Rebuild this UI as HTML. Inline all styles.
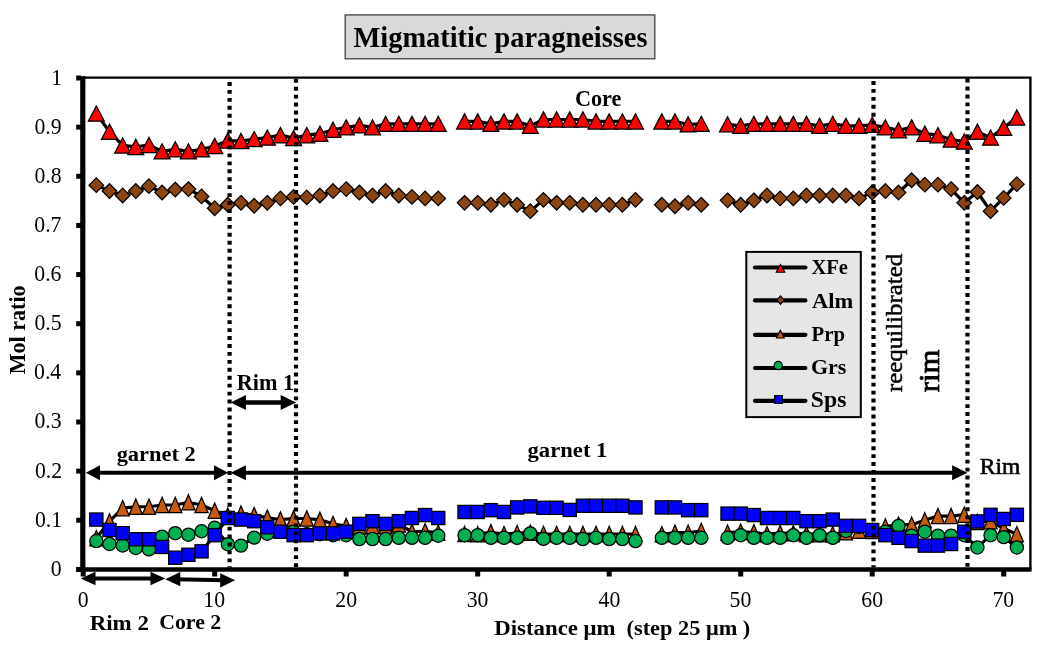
<!DOCTYPE html>
<html><head><meta charset="utf-8"><title>Migmatitic paragneisses</title>
<style>html,body{margin:0;padding:0;background:#fff;}body{width:1045px;height:651px;overflow:hidden;font-family:"Liberation Serif",serif;}svg{display:block;will-change:transform;}</style>
</head><body>
<svg width="1045" height="651" viewBox="0 0 1045 651">
<rect x="0" y="0" width="1045" height="651" fill="#fff"/>
<rect x="345.2" y="14.9" width="309.6" height="43.9" fill="#D9D9D9" stroke="#404040" stroke-width="1.3"/>
<path d="M82.8 77.6H1030.4V569.4" fill="none" stroke="#000" stroke-width="2.4"/>
<path d="M96.35 113.59L109.5 131.73L122.65 145.46L135.8 146.93L148.95 144.97L162.1 151.34L175.25 149.38L188.4 151.34L201.55 149.38L214.7 145.95L227.85 140.56L241 141.05L254.15 139.08L267.3 137.61L280.45 135.16L293.6 138.1L306.75 135.16L319.9 133.69L333.05 129.77L346.2 127.32L359.35 125.36L372.5 127.32L385.65 123.89L398.8 123.89L411.95 123.89L425.1 123.89L438.25 123.89M464.55 121.44L477.7 121.44L490.85 123.89L504 121.44L517.15 121.44L530.3 125.85L543.45 119.48L556.6 119.48L569.75 119.48L582.9 119.48L596.05 121.44L609.2 121.44L622.35 121.44L635.5 121.44M661.8 121.44L674.95 121.44L688.1 124.38L701.25 123.89M727.55 124.38L740.7 125.85L753.85 123.89L767 123.89L780.15 123.89L793.3 123.89L806.45 123.89L819.6 125.85L832.75 123.89L845.9 125.85L859.05 125.85L872.2 124.87L885.35 127.32L898.5 130.26L911.65 127.32L924.8 133.69L937.95 135.16L951.1 139.57L964.25 141.54L977.4 131.73L990.55 137.61L1003.7 127.81L1016.85 117.52" fill="none" stroke="#000" stroke-width="3.2" stroke-linejoin="round"/>
<g stroke="#000" stroke-width="1.25" stroke-linejoin="miter"><path d="M96.35 105.99L104.35 121.19L88.35 121.19Z" fill="#FF0000"/><path d="M109.5 124.13L117.5 139.33L101.5 139.33Z" fill="#FF0000"/><path d="M122.65 137.86L130.65 153.06L114.65 153.06Z" fill="#FF0000"/><path d="M135.8 139.33L143.8 154.53L127.8 154.53Z" fill="#FF0000"/><path d="M148.95 137.37L156.95 152.57L140.95 152.57Z" fill="#FF0000"/><path d="M162.1 143.74L170.1 158.94L154.1 158.94Z" fill="#FF0000"/><path d="M175.25 141.78L183.25 156.98L167.25 156.98Z" fill="#FF0000"/><path d="M188.4 143.74L196.4 158.94L180.4 158.94Z" fill="#FF0000"/><path d="M201.55 141.78L209.55 156.98L193.55 156.98Z" fill="#FF0000"/><path d="M214.7 138.35L222.7 153.55L206.7 153.55Z" fill="#FF0000"/><path d="M227.85 132.96L235.85 148.16L219.85 148.16Z" fill="#FF0000"/><path d="M241 133.45L249 148.65L233 148.65Z" fill="#FF0000"/><path d="M254.15 131.48L262.15 146.68L246.15 146.68Z" fill="#FF0000"/><path d="M267.3 130.01L275.3 145.21L259.3 145.21Z" fill="#FF0000"/><path d="M280.45 127.56L288.45 142.76L272.45 142.76Z" fill="#FF0000"/><path d="M293.6 130.5L301.6 145.7L285.6 145.7Z" fill="#FF0000"/><path d="M306.75 127.56L314.75 142.76L298.75 142.76Z" fill="#FF0000"/><path d="M319.9 126.09L327.9 141.29L311.9 141.29Z" fill="#FF0000"/><path d="M333.05 122.17L341.05 137.37L325.05 137.37Z" fill="#FF0000"/><path d="M346.2 119.72L354.2 134.92L338.2 134.92Z" fill="#FF0000"/><path d="M359.35 117.76L367.35 132.96L351.35 132.96Z" fill="#FF0000"/><path d="M372.5 119.72L380.5 134.92L364.5 134.92Z" fill="#FF0000"/><path d="M385.65 116.29L393.65 131.49L377.65 131.49Z" fill="#FF0000"/><path d="M398.8 116.29L406.8 131.49L390.8 131.49Z" fill="#FF0000"/><path d="M411.95 116.29L419.95 131.49L403.95 131.49Z" fill="#FF0000"/><path d="M425.1 116.29L433.1 131.49L417.1 131.49Z" fill="#FF0000"/><path d="M438.25 116.29L446.25 131.49L430.25 131.49Z" fill="#FF0000"/><path d="M464.55 113.84L472.55 129.04L456.55 129.04Z" fill="#FF0000"/><path d="M477.7 113.84L485.7 129.04L469.7 129.04Z" fill="#FF0000"/><path d="M490.85 116.29L498.85 131.49L482.85 131.49Z" fill="#FF0000"/><path d="M504 113.84L512 129.04L496 129.04Z" fill="#FF0000"/><path d="M517.15 113.84L525.15 129.04L509.15 129.04Z" fill="#FF0000"/><path d="M530.3 118.25L538.3 133.45L522.3 133.45Z" fill="#FF0000"/><path d="M543.45 111.88L551.45 127.08L535.45 127.08Z" fill="#FF0000"/><path d="M556.6 111.88L564.6 127.08L548.6 127.08Z" fill="#FF0000"/><path d="M569.75 111.88L577.75 127.08L561.75 127.08Z" fill="#FF0000"/><path d="M582.9 111.88L590.9 127.08L574.9 127.08Z" fill="#FF0000"/><path d="M596.05 113.84L604.05 129.04L588.05 129.04Z" fill="#FF0000"/><path d="M609.2 113.84L617.2 129.04L601.2 129.04Z" fill="#FF0000"/><path d="M622.35 113.84L630.35 129.04L614.35 129.04Z" fill="#FF0000"/><path d="M635.5 113.84L643.5 129.04L627.5 129.04Z" fill="#FF0000"/><path d="M661.8 113.84L669.8 129.04L653.8 129.04Z" fill="#FF0000"/><path d="M674.95 113.84L682.95 129.04L666.95 129.04Z" fill="#FF0000"/><path d="M688.1 116.78L696.1 131.98L680.1 131.98Z" fill="#FF0000"/><path d="M701.25 116.29L709.25 131.49L693.25 131.49Z" fill="#FF0000"/><path d="M727.55 116.78L735.55 131.98L719.55 131.98Z" fill="#FF0000"/><path d="M740.7 118.25L748.7 133.45L732.7 133.45Z" fill="#FF0000"/><path d="M753.85 116.29L761.85 131.49L745.85 131.49Z" fill="#FF0000"/><path d="M767 116.29L775 131.49L759 131.49Z" fill="#FF0000"/><path d="M780.15 116.29L788.15 131.49L772.15 131.49Z" fill="#FF0000"/><path d="M793.3 116.29L801.3 131.49L785.3 131.49Z" fill="#FF0000"/><path d="M806.45 116.29L814.45 131.49L798.45 131.49Z" fill="#FF0000"/><path d="M819.6 118.25L827.6 133.45L811.6 133.45Z" fill="#FF0000"/><path d="M832.75 116.29L840.75 131.49L824.75 131.49Z" fill="#FF0000"/><path d="M845.9 118.25L853.9 133.45L837.9 133.45Z" fill="#FF0000"/><path d="M859.05 118.25L867.05 133.45L851.05 133.45Z" fill="#FF0000"/><path d="M872.2 117.27L880.2 132.47L864.2 132.47Z" fill="#FF0000"/><path d="M885.35 119.72L893.35 134.92L877.35 134.92Z" fill="#FF0000"/><path d="M898.5 122.66L906.5 137.86L890.5 137.86Z" fill="#FF0000"/><path d="M911.65 119.72L919.65 134.92L903.65 134.92Z" fill="#FF0000"/><path d="M924.8 126.09L932.8 141.29L916.8 141.29Z" fill="#FF0000"/><path d="M937.95 127.56L945.95 142.76L929.95 142.76Z" fill="#FF0000"/><path d="M951.1 131.97L959.1 147.17L943.1 147.17Z" fill="#FF0000"/><path d="M964.25 133.94L972.25 149.14L956.25 149.14Z" fill="#FF0000"/><path d="M977.4 124.13L985.4 139.33L969.4 139.33Z" fill="#FF0000"/><path d="M990.55 130.01L998.55 145.21L982.55 145.21Z" fill="#FF0000"/><path d="M1003.7 120.21L1011.7 135.41L995.7 135.41Z" fill="#FF0000"/><path d="M1016.85 109.92L1024.85 125.12L1008.85 125.12Z" fill="#FF0000"/></g>
<path d="M96.35 185.16L109.5 191.05L122.65 195.46L135.8 191.05L148.95 186.14L162.1 192.52L175.25 189.58L188.4 189.09L201.55 196.44L214.7 208.2L227.85 204.77L241 202.81L254.15 205.75L267.3 202.81L280.45 198.4L293.6 196.93L306.75 197.42L319.9 195.46L333.05 191.05L346.2 189.09L359.35 192.52L372.5 195.46L385.65 191.05L398.8 195.46L411.95 196.93L425.1 198.4L438.25 198.4M464.55 202.81L477.7 202.81L490.85 204.77L504 199.87L517.15 204.77L530.3 211.14L543.45 199.87L556.6 202.81L569.75 202.81L582.9 204.77L596.05 204.77L609.2 204.77L622.35 204.77L635.5 199.87M661.8 204.77L674.95 206.24L688.1 202.81L701.25 204.77M727.55 200.36L740.7 204.77L753.85 200.36L767 195.46L780.15 198.4L793.3 198.4L806.45 195.46L819.6 195.46L832.75 195.46L845.9 195.46L859.05 198.4L872.2 192.52L885.35 191.05L898.5 192.52L911.65 180.26L924.8 184.67L937.95 184.67L951.1 189.09L964.25 202.81L977.4 192.03L990.55 211.14L1003.7 197.91L1016.85 184.18" fill="none" stroke="#000" stroke-width="3.2" stroke-linejoin="round"/>
<g stroke="#000" stroke-width="1.25" stroke-linejoin="miter"><path d="M96.35 177.86L103.65 185.16L96.35 192.46L89.05 185.16Z" fill="#8B4513"/><path d="M109.5 183.75L116.8 191.05L109.5 198.35L102.2 191.05Z" fill="#8B4513"/><path d="M122.65 188.16L129.95 195.46L122.65 202.76L115.35 195.46Z" fill="#8B4513"/><path d="M135.8 183.75L143.1 191.05L135.8 198.35L128.5 191.05Z" fill="#8B4513"/><path d="M148.95 178.84L156.25 186.14L148.95 193.44L141.65 186.14Z" fill="#8B4513"/><path d="M162.1 185.22L169.4 192.52L162.1 199.82L154.8 192.52Z" fill="#8B4513"/><path d="M175.25 182.28L182.55 189.58L175.25 196.88L167.95 189.58Z" fill="#8B4513"/><path d="M188.4 181.79L195.7 189.09L188.4 196.39L181.1 189.09Z" fill="#8B4513"/><path d="M201.55 189.14L208.85 196.44L201.55 203.74L194.25 196.44Z" fill="#8B4513"/><path d="M214.7 200.9L222 208.2L214.7 215.5L207.4 208.2Z" fill="#8B4513"/><path d="M227.85 197.47L235.15 204.77L227.85 212.07L220.55 204.77Z" fill="#8B4513"/><path d="M241 195.51L248.3 202.81L241 210.11L233.7 202.81Z" fill="#8B4513"/><path d="M254.15 198.45L261.45 205.75L254.15 213.05L246.85 205.75Z" fill="#8B4513"/><path d="M267.3 195.51L274.6 202.81L267.3 210.11L260 202.81Z" fill="#8B4513"/><path d="M280.45 191.1L287.75 198.4L280.45 205.7L273.15 198.4Z" fill="#8B4513"/><path d="M293.6 189.63L300.9 196.93L293.6 204.23L286.3 196.93Z" fill="#8B4513"/><path d="M306.75 190.12L314.05 197.42L306.75 204.72L299.45 197.42Z" fill="#8B4513"/><path d="M319.9 188.16L327.2 195.46L319.9 202.76L312.6 195.46Z" fill="#8B4513"/><path d="M333.05 183.75L340.35 191.05L333.05 198.35L325.75 191.05Z" fill="#8B4513"/><path d="M346.2 181.79L353.5 189.09L346.2 196.39L338.9 189.09Z" fill="#8B4513"/><path d="M359.35 185.22L366.65 192.52L359.35 199.82L352.05 192.52Z" fill="#8B4513"/><path d="M372.5 188.16L379.8 195.46L372.5 202.76L365.2 195.46Z" fill="#8B4513"/><path d="M385.65 183.75L392.95 191.05L385.65 198.35L378.35 191.05Z" fill="#8B4513"/><path d="M398.8 188.16L406.1 195.46L398.8 202.76L391.5 195.46Z" fill="#8B4513"/><path d="M411.95 189.63L419.25 196.93L411.95 204.23L404.65 196.93Z" fill="#8B4513"/><path d="M425.1 191.1L432.4 198.4L425.1 205.7L417.8 198.4Z" fill="#8B4513"/><path d="M438.25 191.1L445.55 198.4L438.25 205.7L430.95 198.4Z" fill="#8B4513"/><path d="M464.55 195.51L471.85 202.81L464.55 210.11L457.25 202.81Z" fill="#8B4513"/><path d="M477.7 195.51L485 202.81L477.7 210.11L470.4 202.81Z" fill="#8B4513"/><path d="M490.85 197.47L498.15 204.77L490.85 212.07L483.55 204.77Z" fill="#8B4513"/><path d="M504 192.57L511.3 199.87L504 207.17L496.7 199.87Z" fill="#8B4513"/><path d="M517.15 197.47L524.45 204.77L517.15 212.07L509.85 204.77Z" fill="#8B4513"/><path d="M530.3 203.84L537.6 211.14L530.3 218.44L523 211.14Z" fill="#8B4513"/><path d="M543.45 192.57L550.75 199.87L543.45 207.17L536.15 199.87Z" fill="#8B4513"/><path d="M556.6 195.51L563.9 202.81L556.6 210.11L549.3 202.81Z" fill="#8B4513"/><path d="M569.75 195.51L577.05 202.81L569.75 210.11L562.45 202.81Z" fill="#8B4513"/><path d="M582.9 197.47L590.2 204.77L582.9 212.07L575.6 204.77Z" fill="#8B4513"/><path d="M596.05 197.47L603.35 204.77L596.05 212.07L588.75 204.77Z" fill="#8B4513"/><path d="M609.2 197.47L616.5 204.77L609.2 212.07L601.9 204.77Z" fill="#8B4513"/><path d="M622.35 197.47L629.65 204.77L622.35 212.07L615.05 204.77Z" fill="#8B4513"/><path d="M635.5 192.57L642.8 199.87L635.5 207.17L628.2 199.87Z" fill="#8B4513"/><path d="M661.8 197.47L669.1 204.77L661.8 212.07L654.5 204.77Z" fill="#8B4513"/><path d="M674.95 198.94L682.25 206.24L674.95 213.54L667.65 206.24Z" fill="#8B4513"/><path d="M688.1 195.51L695.4 202.81L688.1 210.11L680.8 202.81Z" fill="#8B4513"/><path d="M701.25 197.47L708.55 204.77L701.25 212.07L693.95 204.77Z" fill="#8B4513"/><path d="M727.55 193.06L734.85 200.36L727.55 207.66L720.25 200.36Z" fill="#8B4513"/><path d="M740.7 197.47L748 204.77L740.7 212.07L733.4 204.77Z" fill="#8B4513"/><path d="M753.85 193.06L761.15 200.36L753.85 207.66L746.55 200.36Z" fill="#8B4513"/><path d="M767 188.16L774.3 195.46L767 202.76L759.7 195.46Z" fill="#8B4513"/><path d="M780.15 191.1L787.45 198.4L780.15 205.7L772.85 198.4Z" fill="#8B4513"/><path d="M793.3 191.1L800.6 198.4L793.3 205.7L786 198.4Z" fill="#8B4513"/><path d="M806.45 188.16L813.75 195.46L806.45 202.76L799.15 195.46Z" fill="#8B4513"/><path d="M819.6 188.16L826.9 195.46L819.6 202.76L812.3 195.46Z" fill="#8B4513"/><path d="M832.75 188.16L840.05 195.46L832.75 202.76L825.45 195.46Z" fill="#8B4513"/><path d="M845.9 188.16L853.2 195.46L845.9 202.76L838.6 195.46Z" fill="#8B4513"/><path d="M859.05 191.1L866.35 198.4L859.05 205.7L851.75 198.4Z" fill="#8B4513"/><path d="M872.2 185.22L879.5 192.52L872.2 199.82L864.9 192.52Z" fill="#8B4513"/><path d="M885.35 183.75L892.65 191.05L885.35 198.35L878.05 191.05Z" fill="#8B4513"/><path d="M898.5 185.22L905.8 192.52L898.5 199.82L891.2 192.52Z" fill="#8B4513"/><path d="M911.65 172.96L918.95 180.26L911.65 187.56L904.35 180.26Z" fill="#8B4513"/><path d="M924.8 177.37L932.1 184.67L924.8 191.97L917.5 184.67Z" fill="#8B4513"/><path d="M937.95 177.37L945.25 184.67L937.95 191.97L930.65 184.67Z" fill="#8B4513"/><path d="M951.1 181.79L958.4 189.09L951.1 196.39L943.8 189.09Z" fill="#8B4513"/><path d="M964.25 195.51L971.55 202.81L964.25 210.11L956.95 202.81Z" fill="#8B4513"/><path d="M977.4 184.73L984.7 192.03L977.4 199.33L970.1 192.03Z" fill="#8B4513"/><path d="M990.55 203.84L997.85 211.14L990.55 218.44L983.25 211.14Z" fill="#8B4513"/><path d="M1003.7 190.61L1011 197.91L1003.7 205.21L996.4 197.91Z" fill="#8B4513"/><path d="M1016.85 176.88L1024.15 184.18L1016.85 191.48L1009.55 184.18Z" fill="#8B4513"/></g>
<path d="M96.35 538.11L109.5 521.44L122.65 508.21L135.8 506.73L148.95 506.73L162.1 505.02L175.25 505.02L188.4 502.32L201.55 505.02L214.7 510.66L227.85 515.56L241 513.6L254.15 515.07L267.3 517.76L280.45 519.58L293.6 518.5L306.75 518.5L319.9 519.82L333.05 523.89L346.2 526.05L359.35 526.49L372.5 525.85L385.65 526.34L398.8 524.38L411.95 531.74L425.1 531.24L438.25 532.72M464.55 533.99L477.7 534.19L490.85 532.23L504 534.19L517.15 533.21L530.3 532.72L543.45 533.99L556.6 533.99L569.75 533.99L582.9 533.99L596.05 533.99L609.2 533.99L622.35 533.99L635.5 534.04M661.8 534.19L674.95 532.72L688.1 532.72L701.25 530.9M727.55 532.72L740.7 531.74L753.85 532.23L767 534.19L780.15 533.21L793.3 533.21L806.45 534.19L819.6 534.19L832.75 534.19L845.9 532.23L859.05 530.61L872.2 530.95L885.35 526.49L898.5 524.68L911.65 524.68L924.8 520.31L937.95 516.05L951.1 516.05L964.25 514.68L977.4 521.93L990.55 521.2L1003.7 528.55L1016.85 534.19" fill="none" stroke="#000" stroke-width="3.2" stroke-linejoin="round"/>
<g stroke="#000" stroke-width="1.25" stroke-linejoin="miter"><path d="M96.35 530.46L102.95 545.76L89.75 545.76Z" fill="#C65A11"/><path d="M109.5 513.79L116.1 529.09L102.9 529.09Z" fill="#C65A11"/><path d="M122.65 500.56L129.25 515.86L116.05 515.86Z" fill="#C65A11"/><path d="M135.8 499.08L142.4 514.38L129.2 514.38Z" fill="#C65A11"/><path d="M148.95 499.08L155.55 514.38L142.35 514.38Z" fill="#C65A11"/><path d="M162.1 497.37L168.7 512.67L155.5 512.67Z" fill="#C65A11"/><path d="M175.25 497.37L181.85 512.67L168.65 512.67Z" fill="#C65A11"/><path d="M188.4 494.67L195 509.97L181.8 509.97Z" fill="#C65A11"/><path d="M201.55 497.37L208.15 512.67L194.95 512.67Z" fill="#C65A11"/><path d="M214.7 503.01L221.3 518.31L208.1 518.31Z" fill="#C65A11"/><path d="M227.85 507.91L234.45 523.21L221.25 523.21Z" fill="#C65A11"/><path d="M241 505.95L247.6 521.25L234.4 521.25Z" fill="#C65A11"/><path d="M254.15 507.42L260.75 522.72L247.55 522.72Z" fill="#C65A11"/><path d="M267.3 510.11L273.9 525.41L260.7 525.41Z" fill="#C65A11"/><path d="M280.45 511.93L287.05 527.23L273.85 527.23Z" fill="#C65A11"/><path d="M293.6 510.85L300.2 526.15L287 526.15Z" fill="#C65A11"/><path d="M306.75 510.85L313.35 526.15L300.15 526.15Z" fill="#C65A11"/><path d="M319.9 512.17L326.5 527.47L313.3 527.47Z" fill="#C65A11"/><path d="M333.05 516.24L339.65 531.54L326.45 531.54Z" fill="#C65A11"/><path d="M346.2 518.4L352.8 533.7L339.6 533.7Z" fill="#C65A11"/><path d="M359.35 518.84L365.95 534.14L352.75 534.14Z" fill="#C65A11"/><path d="M372.5 518.2L379.1 533.5L365.9 533.5Z" fill="#C65A11"/><path d="M385.65 518.69L392.25 533.99L379.05 533.99Z" fill="#C65A11"/><path d="M398.8 516.73L405.4 532.03L392.2 532.03Z" fill="#C65A11"/><path d="M411.95 524.09L418.55 539.38L405.35 539.38Z" fill="#C65A11"/><path d="M425.1 523.59L431.7 538.89L418.5 538.89Z" fill="#C65A11"/><path d="M438.25 525.07L444.85 540.37L431.65 540.37Z" fill="#C65A11"/><path d="M464.55 526.34L471.15 541.64L457.95 541.64Z" fill="#C65A11"/><path d="M477.7 526.54L484.3 541.84L471.1 541.84Z" fill="#C65A11"/><path d="M490.85 524.58L497.45 539.88L484.25 539.88Z" fill="#C65A11"/><path d="M504 526.54L510.6 541.84L497.4 541.84Z" fill="#C65A11"/><path d="M517.15 525.56L523.75 540.86L510.55 540.86Z" fill="#C65A11"/><path d="M530.3 525.07L536.9 540.37L523.7 540.37Z" fill="#C65A11"/><path d="M543.45 526.34L550.05 541.64L536.85 541.64Z" fill="#C65A11"/><path d="M556.6 526.34L563.2 541.64L550 541.64Z" fill="#C65A11"/><path d="M569.75 526.34L576.35 541.64L563.15 541.64Z" fill="#C65A11"/><path d="M582.9 526.34L589.5 541.64L576.3 541.64Z" fill="#C65A11"/><path d="M596.05 526.34L602.65 541.64L589.45 541.64Z" fill="#C65A11"/><path d="M609.2 526.34L615.8 541.64L602.6 541.64Z" fill="#C65A11"/><path d="M622.35 526.34L628.95 541.64L615.75 541.64Z" fill="#C65A11"/><path d="M635.5 526.39L642.1 541.69L628.9 541.69Z" fill="#C65A11"/><path d="M661.8 526.54L668.4 541.84L655.2 541.84Z" fill="#C65A11"/><path d="M674.95 525.07L681.55 540.37L668.35 540.37Z" fill="#C65A11"/><path d="M688.1 525.07L694.7 540.37L681.5 540.37Z" fill="#C65A11"/><path d="M701.25 523.25L707.85 538.55L694.65 538.55Z" fill="#C65A11"/><path d="M727.55 525.07L734.15 540.37L720.95 540.37Z" fill="#C65A11"/><path d="M740.7 524.09L747.3 539.38L734.1 539.38Z" fill="#C65A11"/><path d="M753.85 524.58L760.45 539.88L747.25 539.88Z" fill="#C65A11"/><path d="M767 526.54L773.6 541.84L760.4 541.84Z" fill="#C65A11"/><path d="M780.15 525.56L786.75 540.86L773.55 540.86Z" fill="#C65A11"/><path d="M793.3 525.56L799.9 540.86L786.7 540.86Z" fill="#C65A11"/><path d="M806.45 526.54L813.05 541.84L799.85 541.84Z" fill="#C65A11"/><path d="M819.6 526.54L826.2 541.84L813 541.84Z" fill="#C65A11"/><path d="M832.75 526.54L839.35 541.84L826.15 541.84Z" fill="#C65A11"/><path d="M845.9 524.58L852.5 539.88L839.3 539.88Z" fill="#C65A11"/><path d="M859.05 522.96L865.65 538.26L852.45 538.26Z" fill="#C65A11"/><path d="M872.2 523.3L878.8 538.6L865.6 538.6Z" fill="#C65A11"/><path d="M885.35 518.84L891.95 534.14L878.75 534.14Z" fill="#C65A11"/><path d="M898.5 517.03L905.1 532.33L891.9 532.33Z" fill="#C65A11"/><path d="M911.65 517.03L918.25 532.33L905.05 532.33Z" fill="#C65A11"/><path d="M924.8 512.66L931.4 527.96L918.2 527.96Z" fill="#C65A11"/><path d="M937.95 508.4L944.55 523.7L931.35 523.7Z" fill="#C65A11"/><path d="M951.1 508.4L957.7 523.7L944.5 523.7Z" fill="#C65A11"/><path d="M964.25 507.03L970.85 522.33L957.65 522.33Z" fill="#C65A11"/><path d="M977.4 514.28L984 529.58L970.8 529.58Z" fill="#C65A11"/><path d="M990.55 513.55L997.15 528.85L983.95 528.85Z" fill="#C65A11"/><path d="M1003.7 520.9L1010.3 536.2L997.1 536.2Z" fill="#C65A11"/><path d="M1016.85 526.54L1023.45 541.84L1010.25 541.84Z" fill="#C65A11"/></g>
<path d="M96.35 541.05L109.5 543.99L122.65 545.46L135.8 547.91L148.95 549.38L162.1 536.64L175.25 533.21L188.4 534.68L201.55 531.24L214.7 527.81L227.85 544.19L241 545.61L254.15 537.62L267.3 533.7L280.45 531.74L293.6 531.74L306.75 534.19L319.9 534.19L333.05 535.17L346.2 535.17L359.35 539.09L372.5 539.09L385.65 539.09L398.8 537.81L411.95 537.81L425.1 537.81L438.25 535.66M464.55 535.17L477.7 535.17L490.85 537.81L504 537.81L517.15 537.81L530.3 533.4L543.45 538.89L556.6 537.81L569.75 537.81L582.9 539.09L596.05 537.81L609.2 539.09L622.35 539.09L635.5 541.05M661.8 537.81L674.95 537.81L688.1 537.81L701.25 537.81M727.55 537.81L740.7 535.17L753.85 537.81L767 537.81L780.15 537.81L793.3 535.17L806.45 537.81L819.6 535.17L832.75 537.81L845.9 530.9L859.05 526.83L872.2 530.26L885.35 531.74L898.5 525.85L911.65 535.66L924.8 531.74L937.95 535.66L951.1 535.66L964.25 535.17L977.4 547.42L990.55 535.17L1003.7 537.13L1016.85 547.42" fill="none" stroke="#000" stroke-width="3.2" stroke-linejoin="round"/>
<g stroke="#000" stroke-width="1.25" stroke-linejoin="miter"><circle cx="96.35" cy="541.05" r="6.6" fill="#00B050"/><circle cx="109.5" cy="543.99" r="6.6" fill="#00B050"/><circle cx="122.65" cy="545.46" r="6.6" fill="#00B050"/><circle cx="135.8" cy="547.91" r="6.6" fill="#00B050"/><circle cx="148.95" cy="549.38" r="6.6" fill="#00B050"/><circle cx="162.1" cy="536.64" r="6.6" fill="#00B050"/><circle cx="175.25" cy="533.21" r="6.6" fill="#00B050"/><circle cx="188.4" cy="534.68" r="6.6" fill="#00B050"/><circle cx="201.55" cy="531.24" r="6.6" fill="#00B050"/><circle cx="214.7" cy="527.81" r="6.6" fill="#00B050"/><circle cx="227.85" cy="544.19" r="6.6" fill="#00B050"/><circle cx="241" cy="545.61" r="6.6" fill="#00B050"/><circle cx="254.15" cy="537.62" r="6.6" fill="#00B050"/><circle cx="267.3" cy="533.7" r="6.6" fill="#00B050"/><circle cx="280.45" cy="531.74" r="6.6" fill="#00B050"/><circle cx="293.6" cy="531.74" r="6.6" fill="#00B050"/><circle cx="306.75" cy="534.19" r="6.6" fill="#00B050"/><circle cx="319.9" cy="534.19" r="6.6" fill="#00B050"/><circle cx="333.05" cy="535.17" r="6.6" fill="#00B050"/><circle cx="346.2" cy="535.17" r="6.6" fill="#00B050"/><circle cx="359.35" cy="539.09" r="6.6" fill="#00B050"/><circle cx="372.5" cy="539.09" r="6.6" fill="#00B050"/><circle cx="385.65" cy="539.09" r="6.6" fill="#00B050"/><circle cx="398.8" cy="537.81" r="6.6" fill="#00B050"/><circle cx="411.95" cy="537.81" r="6.6" fill="#00B050"/><circle cx="425.1" cy="537.81" r="6.6" fill="#00B050"/><circle cx="438.25" cy="535.66" r="6.6" fill="#00B050"/><circle cx="464.55" cy="535.17" r="6.6" fill="#00B050"/><circle cx="477.7" cy="535.17" r="6.6" fill="#00B050"/><circle cx="490.85" cy="537.81" r="6.6" fill="#00B050"/><circle cx="504" cy="537.81" r="6.6" fill="#00B050"/><circle cx="517.15" cy="537.81" r="6.6" fill="#00B050"/><circle cx="530.3" cy="533.4" r="6.6" fill="#00B050"/><circle cx="543.45" cy="538.89" r="6.6" fill="#00B050"/><circle cx="556.6" cy="537.81" r="6.6" fill="#00B050"/><circle cx="569.75" cy="537.81" r="6.6" fill="#00B050"/><circle cx="582.9" cy="539.09" r="6.6" fill="#00B050"/><circle cx="596.05" cy="537.81" r="6.6" fill="#00B050"/><circle cx="609.2" cy="539.09" r="6.6" fill="#00B050"/><circle cx="622.35" cy="539.09" r="6.6" fill="#00B050"/><circle cx="635.5" cy="541.05" r="6.6" fill="#00B050"/><circle cx="661.8" cy="537.81" r="6.6" fill="#00B050"/><circle cx="674.95" cy="537.81" r="6.6" fill="#00B050"/><circle cx="688.1" cy="537.81" r="6.6" fill="#00B050"/><circle cx="701.25" cy="537.81" r="6.6" fill="#00B050"/><circle cx="727.55" cy="537.81" r="6.6" fill="#00B050"/><circle cx="740.7" cy="535.17" r="6.6" fill="#00B050"/><circle cx="753.85" cy="537.81" r="6.6" fill="#00B050"/><circle cx="767" cy="537.81" r="6.6" fill="#00B050"/><circle cx="780.15" cy="537.81" r="6.6" fill="#00B050"/><circle cx="793.3" cy="535.17" r="6.6" fill="#00B050"/><circle cx="806.45" cy="537.81" r="6.6" fill="#00B050"/><circle cx="819.6" cy="535.17" r="6.6" fill="#00B050"/><circle cx="832.75" cy="537.81" r="6.6" fill="#00B050"/><circle cx="845.9" cy="530.9" r="6.6" fill="#00B050"/><circle cx="859.05" cy="526.83" r="6.6" fill="#00B050"/><circle cx="872.2" cy="530.26" r="6.6" fill="#00B050"/><circle cx="885.35" cy="531.74" r="6.6" fill="#00B050"/><circle cx="898.5" cy="525.85" r="6.6" fill="#00B050"/><circle cx="911.65" cy="535.66" r="6.6" fill="#00B050"/><circle cx="924.8" cy="531.74" r="6.6" fill="#00B050"/><circle cx="937.95" cy="535.66" r="6.6" fill="#00B050"/><circle cx="951.1" cy="535.66" r="6.6" fill="#00B050"/><circle cx="964.25" cy="535.17" r="6.6" fill="#00B050"/><circle cx="977.4" cy="547.42" r="6.6" fill="#00B050"/><circle cx="990.55" cy="535.17" r="6.6" fill="#00B050"/><circle cx="1003.7" cy="537.13" r="6.6" fill="#00B050"/><circle cx="1016.85" cy="547.42" r="6.6" fill="#00B050"/></g>
<path d="M96.35 519.58L109.5 530.02L122.65 533.21L135.8 539.28L148.95 539.28L162.1 546.93L175.25 557.72L188.4 554.77L201.55 551.34L214.7 535.17L227.85 518.01L241 519.58L254.15 521.2L267.3 527.32L280.45 531.74L293.6 535.17L306.75 535.17L319.9 533.4L333.05 533.4L346.2 531.74L359.35 523.89L372.5 521.2L385.65 523.89L398.8 521.2L411.95 518.01L425.1 515.07L438.25 518.01M464.55 511.98L477.7 511.98L490.85 510.17L504 511.98L517.15 507.42L530.3 506.39L543.45 507.81L556.6 507.81L569.75 509.92L582.9 505.75L596.05 505.75L609.2 505.75L622.35 505.75L635.5 507.42M661.8 507.42L674.95 507.42L688.1 510.17L701.25 510.17M727.55 513.6L740.7 513.6L753.85 515.07L767 518.01L780.15 518.01L793.3 518.01L806.45 521.2L819.6 521.2L832.75 519.58L845.9 525.85L859.05 525.85L872.2 530.02L885.35 535.17L898.5 537.81L911.65 541.05L924.8 545.61L937.95 545.61L951.1 543.99L964.25 531.74L977.4 521.44L990.55 514.82L1003.7 518.99L1016.85 514.82" fill="none" stroke="#000" stroke-width="3.2" stroke-linejoin="round"/>
<g stroke="#000" stroke-width="1.25" stroke-linejoin="miter"><rect x="89.75" y="512.98" width="13.2" height="13.2" fill="#0000FF"/><rect x="102.9" y="523.42" width="13.2" height="13.2" fill="#0000FF"/><rect x="116.05" y="526.61" width="13.2" height="13.2" fill="#0000FF"/><rect x="129.2" y="532.68" width="13.2" height="13.2" fill="#0000FF"/><rect x="142.35" y="532.68" width="13.2" height="13.2" fill="#0000FF"/><rect x="155.5" y="540.33" width="13.2" height="13.2" fill="#0000FF"/><rect x="168.65" y="551.12" width="13.2" height="13.2" fill="#0000FF"/><rect x="181.8" y="548.17" width="13.2" height="13.2" fill="#0000FF"/><rect x="194.95" y="544.74" width="13.2" height="13.2" fill="#0000FF"/><rect x="208.1" y="528.57" width="13.2" height="13.2" fill="#0000FF"/><rect x="221.25" y="511.41" width="13.2" height="13.2" fill="#0000FF"/><rect x="234.4" y="512.98" width="13.2" height="13.2" fill="#0000FF"/><rect x="247.55" y="514.6" width="13.2" height="13.2" fill="#0000FF"/><rect x="260.7" y="520.72" width="13.2" height="13.2" fill="#0000FF"/><rect x="273.85" y="525.13" width="13.2" height="13.2" fill="#0000FF"/><rect x="287" y="528.57" width="13.2" height="13.2" fill="#0000FF"/><rect x="300.15" y="528.57" width="13.2" height="13.2" fill="#0000FF"/><rect x="313.3" y="526.8" width="13.2" height="13.2" fill="#0000FF"/><rect x="326.45" y="526.8" width="13.2" height="13.2" fill="#0000FF"/><rect x="339.6" y="525.13" width="13.2" height="13.2" fill="#0000FF"/><rect x="352.75" y="517.29" width="13.2" height="13.2" fill="#0000FF"/><rect x="365.9" y="514.6" width="13.2" height="13.2" fill="#0000FF"/><rect x="379.05" y="517.29" width="13.2" height="13.2" fill="#0000FF"/><rect x="392.2" y="514.6" width="13.2" height="13.2" fill="#0000FF"/><rect x="405.35" y="511.41" width="13.2" height="13.2" fill="#0000FF"/><rect x="418.5" y="508.47" width="13.2" height="13.2" fill="#0000FF"/><rect x="431.65" y="511.41" width="13.2" height="13.2" fill="#0000FF"/><rect x="457.95" y="505.38" width="13.2" height="13.2" fill="#0000FF"/><rect x="471.1" y="505.38" width="13.2" height="13.2" fill="#0000FF"/><rect x="484.25" y="503.57" width="13.2" height="13.2" fill="#0000FF"/><rect x="497.4" y="505.38" width="13.2" height="13.2" fill="#0000FF"/><rect x="510.55" y="500.82" width="13.2" height="13.2" fill="#0000FF"/><rect x="523.7" y="499.79" width="13.2" height="13.2" fill="#0000FF"/><rect x="536.85" y="501.21" width="13.2" height="13.2" fill="#0000FF"/><rect x="550" y="501.21" width="13.2" height="13.2" fill="#0000FF"/><rect x="563.15" y="503.32" width="13.2" height="13.2" fill="#0000FF"/><rect x="576.3" y="499.15" width="13.2" height="13.2" fill="#0000FF"/><rect x="589.45" y="499.15" width="13.2" height="13.2" fill="#0000FF"/><rect x="602.6" y="499.15" width="13.2" height="13.2" fill="#0000FF"/><rect x="615.75" y="499.15" width="13.2" height="13.2" fill="#0000FF"/><rect x="628.9" y="500.82" width="13.2" height="13.2" fill="#0000FF"/><rect x="655.2" y="500.82" width="13.2" height="13.2" fill="#0000FF"/><rect x="668.35" y="500.82" width="13.2" height="13.2" fill="#0000FF"/><rect x="681.5" y="503.57" width="13.2" height="13.2" fill="#0000FF"/><rect x="694.65" y="503.57" width="13.2" height="13.2" fill="#0000FF"/><rect x="720.95" y="507" width="13.2" height="13.2" fill="#0000FF"/><rect x="734.1" y="507" width="13.2" height="13.2" fill="#0000FF"/><rect x="747.25" y="508.47" width="13.2" height="13.2" fill="#0000FF"/><rect x="760.4" y="511.41" width="13.2" height="13.2" fill="#0000FF"/><rect x="773.55" y="511.41" width="13.2" height="13.2" fill="#0000FF"/><rect x="786.7" y="511.41" width="13.2" height="13.2" fill="#0000FF"/><rect x="799.85" y="514.6" width="13.2" height="13.2" fill="#0000FF"/><rect x="813" y="514.6" width="13.2" height="13.2" fill="#0000FF"/><rect x="826.15" y="512.98" width="13.2" height="13.2" fill="#0000FF"/><rect x="839.3" y="519.25" width="13.2" height="13.2" fill="#0000FF"/><rect x="852.45" y="519.25" width="13.2" height="13.2" fill="#0000FF"/><rect x="865.6" y="523.42" width="13.2" height="13.2" fill="#0000FF"/><rect x="878.75" y="528.57" width="13.2" height="13.2" fill="#0000FF"/><rect x="891.9" y="531.21" width="13.2" height="13.2" fill="#0000FF"/><rect x="905.05" y="534.45" width="13.2" height="13.2" fill="#0000FF"/><rect x="918.2" y="539.01" width="13.2" height="13.2" fill="#0000FF"/><rect x="931.35" y="539.01" width="13.2" height="13.2" fill="#0000FF"/><rect x="944.5" y="537.39" width="13.2" height="13.2" fill="#0000FF"/><rect x="957.65" y="525.13" width="13.2" height="13.2" fill="#0000FF"/><rect x="970.8" y="514.84" width="13.2" height="13.2" fill="#0000FF"/><rect x="983.95" y="508.22" width="13.2" height="13.2" fill="#0000FF"/><rect x="997.1" y="512.39" width="13.2" height="13.2" fill="#0000FF"/><rect x="1010.25" y="508.22" width="13.2" height="13.2" fill="#0000FF"/></g>
<path d="M82.8 76.3V571.6" stroke="#000" stroke-width="5.2"/>
<path d="M76.4 569.5H1031.5" stroke="#000" stroke-width="4.4"/>
<rect x="76.2" y="566.9" width="5" height="5"/>
<rect x="76.2" y="517.76" width="5" height="5"/>
<rect x="76.2" y="468.62" width="5" height="5"/>
<rect x="76.2" y="419.48" width="5" height="5"/>
<rect x="76.2" y="370.34" width="5" height="5"/>
<rect x="76.2" y="321.2" width="5" height="5"/>
<rect x="76.2" y="272.06" width="5" height="5"/>
<rect x="76.2" y="222.92" width="5" height="5"/>
<rect x="76.2" y="173.78" width="5" height="5"/>
<rect x="76.2" y="124.64" width="5" height="5"/>
<rect x="76.2" y="75.5" width="5" height="5"/>
<rect x="80.7" y="571" width="5" height="5.5"/>
<rect x="212.2" y="571" width="5" height="5.5"/>
<rect x="343.7" y="571" width="5" height="5.5"/>
<rect x="475.2" y="571" width="5" height="5.5"/>
<rect x="606.7" y="571" width="5" height="5.5"/>
<rect x="738.2" y="571" width="5" height="5.5"/>
<rect x="869.7" y="571" width="5" height="5.5"/>
<rect x="1001.2" y="571" width="5" height="5.5"/>
<line x1="229.6" y1="82" x2="229.6" y2="567.5" stroke="#000" stroke-width="4.2" stroke-dasharray="3.9 4.04" stroke-dashoffset="0"/>
<line x1="296" y1="78.8" x2="296" y2="567.5" stroke="#000" stroke-width="4.2" stroke-dasharray="3.9 4.04" stroke-dashoffset="0"/>
<line x1="873.5" y1="81" x2="873.5" y2="567.5" stroke="#000" stroke-width="4.2" stroke-dasharray="3.9 4.04" stroke-dashoffset="0"/>
<line x1="967.5" y1="78.6" x2="967.5" y2="567.5" stroke="#000" stroke-width="4.2" stroke-dasharray="3.9 4.04" stroke-dashoffset="0"/>
<line x1="239.78" y1="402.5" x2="286.82" y2="402.5" stroke="#000" stroke-width="4.4"/><path d="M230.6 402.5L245.9 395L245.9 410Z"/><path d="M296 402.5L280.7 395L280.7 410Z"/>
<line x1="94.32" y1="472.8" x2="219.68" y2="472.8" stroke="#000" stroke-width="4"/><path d="M85.8 472.8L100 465.3L100 480.3Z"/><path d="M228.2 472.8L214 465.3L214 480.3Z"/>
<line x1="239.78" y1="472.8" x2="958.22" y2="472.8" stroke="#000" stroke-width="4"/><path d="M230.6 472.8L245.9 465.3L245.9 480.3Z"/><path d="M967.4 472.8L952.1 465.3L952.1 480.3Z"/>
<line x1="89.58" y1="578.5" x2="156.42" y2="578.5" stroke="#000" stroke-width="4"/><path d="M80.7 578.5L95.5 571.75L95.5 585.25Z"/><path d="M165.3 578.5L150.5 571.75L150.5 585.25Z"/>
<line x1="174.3" y1="579.2" x2="226.2" y2="580.3" stroke="#000" stroke-width="4"/><path d="M165.3 579.2L180.3 572.05L180.3 586.35Z"/><path d="M235.2 580.3L220.2 573.15L220.2 587.45Z"/>
<rect x="746.3" y="251.9" width="114.5" height="165.2" fill="#E6E6E6" stroke="#000" stroke-width="2"/>
<line x1="755" y1="267.5" x2="805.4" y2="267.5" stroke="#000" stroke-width="4.2" stroke-linecap="round"/>
<g stroke="#000" stroke-width="1.1"><path d="M780.5 264.45L784.8 272.25L776.2 272.25Z" fill="#FF0000"/></g>
<line x1="755" y1="300.4" x2="805.4" y2="300.4" stroke="#000" stroke-width="4.2" stroke-linecap="round"/>
<g stroke="#000" stroke-width="1.1"><path d="M780.5 295.9L784.1 300.1L780.5 304.3L776.9 300.1Z" fill="#8B4513"/></g>
<line x1="755" y1="334.8" x2="805.4" y2="334.8" stroke="#000" stroke-width="4.2" stroke-linecap="round"/>
<g stroke="#000" stroke-width="1.1"><path d="M780.3 330.15L784.2 337.95L776.4 337.95Z" fill="#C65A11"/></g>
<line x1="755" y1="368.0" x2="805.4" y2="368.0" stroke="#000" stroke-width="4.2" stroke-linecap="round"/>
<g stroke="#000" stroke-width="1.1"><circle cx="778.2" cy="365.5" r="4.1" fill="#00B050"/></g>
<line x1="755" y1="400.8" x2="805.4" y2="400.8" stroke="#000" stroke-width="4.2" stroke-linecap="round"/>
<g stroke="#000" stroke-width="1.1"><rect x="774.6" y="395.6" width="7.8" height="7.8" fill="#0000FF"/></g>
<g font-family="Liberation Serif" fill="#000"><text transform="translate(353.53,46.6) scale(0.9650,1)" font-size="29.42" font-weight="bold">Migmatitic paragneisses</text>
<text transform="translate(574.99,105.6) scale(0.9942,1)" font-size="22.31" font-weight="bold">Core</text>
<text transform="translate(236.76,389.8) scale(1.0056,1)" font-size="22.03" font-weight="bold">Rim 1</text>
<text transform="translate(116.63,460.7) scale(1.0283,1)" font-size="21.85" font-weight="bold">garnet 2</text>
<text transform="translate(527.52,457.3) scale(1.0610,1)" font-size="21.36" font-weight="bold">garnet 1</text>
<text transform="translate(979.8,474) scale(1.0441,1)" font-size="22.46" font-weight="normal" stroke="#000" stroke-width="0.6">Rim</text>
<text transform="translate(89.64,630.4) scale(1.1009,1)" font-size="20.87" font-weight="bold">Rim 2</text>
<text transform="translate(159.21,628.7) scale(1.0130,1)" font-size="21.54" font-weight="bold">Core 2</text>
<text transform="translate(494.24,635.3) scale(1.0507,1)" font-size="21.74" font-weight="bold">Distance μm</text>
<text transform="translate(626.51,635) scale(1.0792,1)" font-size="20.72" font-weight="bold">(step 25 μm )</text>
<text transform="translate(811.49,273.9) scale(0.9954,1)" font-size="20.62" font-weight="bold">XFe</text>
<text transform="translate(811.98,307.5) scale(1.0555,1)" font-size="21.30" font-weight="bold">Alm</text>
<text transform="translate(811.58,341.2) scale(0.9785,1)" font-size="21.23" font-weight="bold">Prp</text>
<text transform="translate(810.9,373.6) scale(1.0790,1)" font-size="20.46" font-weight="bold">Grs</text>
<text transform="translate(810.81,407.3) scale(1.0732,1)" font-size="22.15" font-weight="bold">Sps</text>
<text transform="translate(24.6,373.8) rotate(-90) translate(-0.44,0) scale(0.9457,1)" font-size="23.33" font-weight="bold">Mol ratio</text>
<text transform="translate(902.3,391.6) rotate(-90) translate(-0.5,0) scale(1.0963,1)" font-size="22.75" font-weight="normal" stroke="#000" stroke-width="0.5">reequilibrated</text>
<text transform="translate(938.6,391.6) rotate(-90) translate(-0.61,0) scale(1.0660,1)" font-size="28.77" font-weight="normal" stroke="#000" stroke-width="0.8">rim</text>
<text transform="translate(50.8,575.85) scale(0.945,1)" font-size="23.0">0</text>
<text transform="translate(34.94,526.94) scale(0.945,1)" font-size="23.0">0.1</text>
<text transform="translate(34.94,477.57) scale(0.945,1)" font-size="23.0">0.2</text>
<text transform="translate(34.5,428.43) scale(0.945,1)" font-size="23.0">0.3</text>
<text transform="translate(34.07,379.29) scale(0.945,1)" font-size="23.0">0.4</text>
<text transform="translate(34.5,330.15) scale(0.945,1)" font-size="23.0">0.5</text>
<text transform="translate(34.28,281.01) scale(0.945,1)" font-size="23.0">0.6</text>
<text transform="translate(34.28,231.87) scale(0.945,1)" font-size="23.0">0.7</text>
<text transform="translate(34.5,182.73) scale(0.945,1)" font-size="23.0">0.8</text>
<text transform="translate(34.5,133.59) scale(0.945,1)" font-size="23.0">0.9</text>
<text transform="translate(51.24,84.68) scale(0.945,1)" font-size="23.0">1</text>
<text transform="translate(77.77,606.95) scale(0.945,1)" font-size="23.0">0</text>
<text transform="translate(203.29,607.18) scale(0.945,1)" font-size="23.0">10</text>
<text transform="translate(335.33,606.95) scale(0.945,1)" font-size="23.0">20</text>
<text transform="translate(466.72,606.95) scale(0.945,1)" font-size="23.0">30</text>
<text transform="translate(598.55,606.95) scale(0.945,1)" font-size="23.0">40</text>
<text transform="translate(729.62,606.95) scale(0.945,1)" font-size="23.0">50</text>
<text transform="translate(861.33,606.95) scale(0.945,1)" font-size="23.0">60</text>
<text transform="translate(992.51,606.95) scale(0.945,1)" font-size="23.0">70</text></g>
</svg>
</body></html>
